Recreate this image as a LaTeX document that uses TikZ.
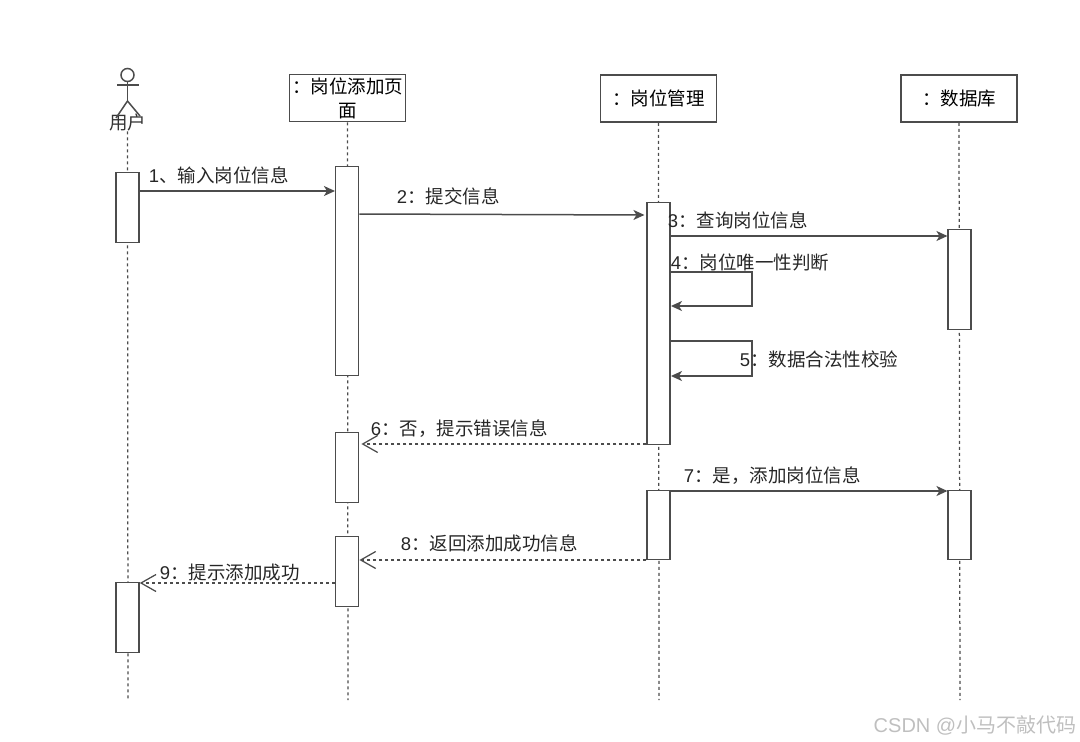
\documentclass[tikz,border=0pt]{standalone}
\usepackage{fontspec}
\setmainfont{Liberation Sans}
\newfontfamily\cjk{Noto Sans CJK SC}
\usetikzlibrary{arrows.meta}

\begin{document}
\begin{tikzpicture}[
            x=1pt, y=-1pt,
            line width=1.5pt,
            head/.style={draw=black!70, minimum width=116pt, minimum height=47pt, inner sep=0pt, align=center, font=\cjk\fontsize{18.5}{24}\selectfont},
            bar/.style={draw=black!70, fill=white, minimum width=23pt, minimum height=#1, inner sep=0pt},
            life/.style={draw=black!70, line width=1.25pt, dash pattern=on 3pt off 3pt},
            msg/.style={draw=black!70, -{Stealth[length=11pt, width=10pt, inset=3pt]}},
            ret/.style={draw=black!70, line width=1.25pt, dash pattern=on 3pt off 3pt, -{Straight Barb[length=15pt, width=17pt]}},
            lbl/.style={anchor=west, inner sep=0pt, text=black!85, font=\fontsize{18.5}{22}\selectfont}
        ]
            \useasboundingbox (0,0) rectangle (1080,742);

            % Heads
            \node[inner sep=0pt, text=black!80, font=\cjk\fontsize{18.5}{22}\selectfont] (user) at (127.5,122) {用户};
            \node[head] (page) at (347.5,98) {：岗位添加页\\面};
            \node[head] (mgr) at (658.5,98.5) {：岗位管理};
            \node[head] (db) at (959,98.5) {：数据库};

            % Actor
            \node[draw=black!70, circle, minimum size=13pt, inner sep=0pt] (uhead) at (127.5,75) {};
            \coordinate (hip) at (127.5,101);
            \coordinate (armL) at (117,85);
            \coordinate (armR) at (139,85);
            \coordinate (legL) at (116,118);
            \coordinate (legR) at (140,116);
            \draw[draw=black!70] (uhead.south) -- (hip);
            \draw[draw=black!70] (armL) -- (armR);
            \draw[draw=black!70] (legL) -- (hip) -- (legR);

            % Life lines
            \coordinate (userEnd) at (128,700);
            \coordinate (pageEnd) at (348,700);
            \coordinate (mgrEnd) at (659,700);
            \coordinate (dbEnd) at (960,700);
            \draw[life] (user.south) -- (userEnd);
            \draw[life] (page.south) -- (pageEnd);
            \draw[life] (mgr.south) -- (mgrEnd);
            \draw[life] (db.south) -- (dbEnd);

            % Activation bars
            \node[bar=70pt] (userA) at (127.5,207.5) {};
            \node[bar=70pt] (userB) at (127.5,617.5) {};
            \node[bar=209pt] (pageA) at (347.2,271) {};
            \node[bar=70pt] (pageB) at (347.2,467.5) {};
            \node[bar=70pt] (pageC) at (347.2,571.5) {};
            \node[bar=242pt] (mgrA) at (658.7,323.5) {};
            \node[bar=69pt] (mgrB) at (658.7,525) {};
            \node[bar=100pt] (dbA) at (959.7,279.5) {};
            \node[bar=69pt] (dbB) at (959.7,525) {};

            % Messages
            \draw[msg] (userA.east |- 0,191) -- (pageA.west |- 0,191);
            \draw[msg, shorten >=2pt] (pageA.east |- 0,214) -- (mgrA.west |- 0,215);
            \draw[msg] (mgrA.east |- 0,236) -- (dbA.west |- 0,236);
            \draw[msg] (mgrA.east |- 0,272) -- ++(81,0) -- ++(0,34) -- (mgrA.east |- 0,306);
            \draw[msg] (mgrA.east |- 0,341) -- ++(81,0) -- ++(0,35) -- (mgrA.east |- 0,376);
            \draw[ret, shorten >=2pt] (mgrA.west |- 0,444) -- (pageB.east |- 0,444);
            \draw[msg] (mgrB.east |- 0,491) -- (dbB.west |- 0,491);
            \draw[ret] (mgrB.west |- 0,560) -- (pageC.east |- 0,560);
            \draw[ret] (pageC.west |- 0,583) -- (userB.east |- 0,583);

            % Labels
            \node[lbl] (m1) at (148,175) {1{\cjk 、输入岗位信息}};
            \node[lbl] (m2) at (396,196) {2{\cjk ：提交信息}};
            \node[lbl] (m3) at (667,220) {3{\cjk ：查询岗位信息}};
            \node[lbl] (m4) at (670,262) {4{\cjk ：岗位唯一性判断}};
            \node[lbl] (m5) at (739,359) {5{\cjk ：数据合法性校验}};
            \node[lbl] (m6) at (370,429) {6{\cjk ：否，提示错误信息}};
            \node[lbl] (m7) at (683,476) {7{\cjk ：是，添加岗位信息}};
            \node[lbl] (m8) at (400,543) {8{\cjk ：返回添加成功信息}};
            \node[lbl] (m9) at (159,573) {9{\cjk ：提示添加成功}};

            % Watermark
            \node[anchor=east, inner sep=0pt, text=black!25, font=\fontsize{20}{22}\selectfont] (mark) at (1077,725) {CSDN @{\cjk 小马不敲代码}};
        \end{tikzpicture}
\end{document}
